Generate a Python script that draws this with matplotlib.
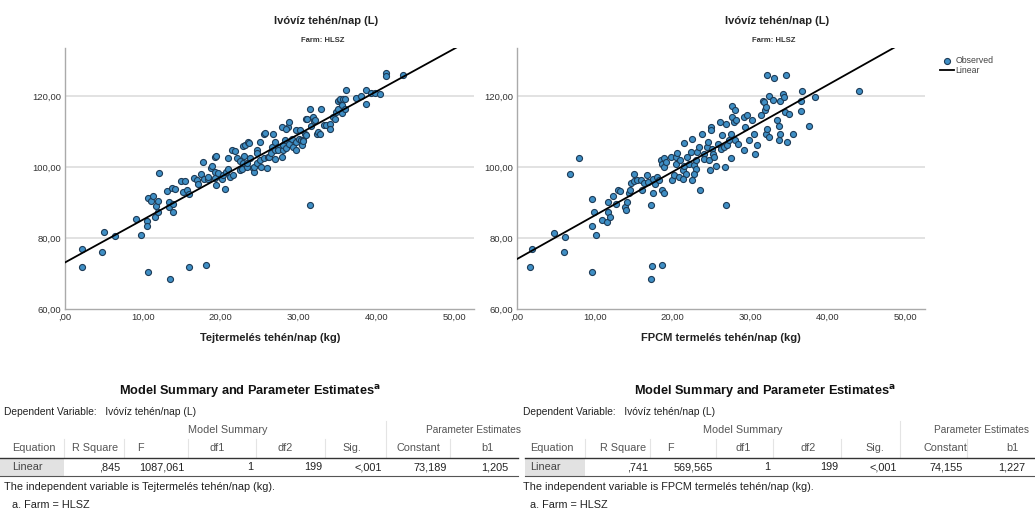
import numpy as np
import matplotlib
matplotlib.use('Agg')
import matplotlib.pyplot as plt
from matplotlib.lines import Line2D

plt.rcParams['font.family'] = ['Liberation Sans', 'DejaVu Sans']

# ---- data ----
milk_x = [2.2, 2.2, 4.7, 5.0, 6.4, 9.1, 9.7, 10.5, 10.5, 10.7, 10.7, 11.0, 11.3, 11.5, 11.7, 12.0, 12.1, 12.0,
          13.1, 13.4, 13.4, 13.5, 13.7, 13.9, 13.9, 14.1, 14.9, 15.4, 15.1, 15.6, 15.9, 15.9, 16.5, 16.9, 17.1,
          17.5, 17.7, 17.9, 18.1, 18.3, 18.4, 18.8, 18.9, 19.2, 19.4, 19.2, 19.3, 19.4, 19.7, 20.2, 20.3, 20.5,
          20.7, 20.9, 21.2, 20.9, 21.5, 21.8, 21.6, 22.1, 22.4, 22.4, 22.7, 22.9, 22.9, 23.0, 23.1, 23.5, 23.6,
          23.3, 23.7, 23.3, 24.1, 24.3, 24.3, 24.6, 24.6, 24.6, 25.0, 25.0, 25.2, 25.5, 25.6, 25.7, 25.9, 26.1,
          26.2, 26.5, 26.6, 26.7, 26.9, 27.0, 27.0, 27.3, 27.4, 27.8, 27.8, 28.0, 28.0, 28.2, 28.4, 28.6, 28.8,
          28.8, 28.4, 29.1, 29.3, 29.6, 29.7, 29.7, 30.1, 30.2, 30.3, 30.4, 30.6, 30.5, 30.8, 30.9, 30.9, 31.0,
          31.4, 31.5, 31.6, 31.8, 31.9, 32.1, 32.3, 32.5, 32.7, 32.9, 33.3, 33.5, 34.0, 34.0, 34.4, 34.6, 34.8,
          35.0, 35.0, 35.3, 35.3, 35.5, 35.6, 35.7, 35.9, 36.0, 36.1, 37.4, 38.0, 38.7, 38.7, 39.3, 39.8, 40.4,
          41.2, 41.2, 43.4]
milk_y = [77.0, 72.0, 76.1, 81.8, 80.6, 85.3, 80.8, 84.8, 83.6, 70.4, 91.3, 90.4, 91.9, 86.0, 89.1, 90.4, 98.3, 87.4,
          93.4, 90.3, 88.7, 68.5, 94.3, 87.5, 89.6, 94.0, 96.2, 96.0, 93.1, 93.7, 92.6, 72.0, 97.1, 96.4, 95.2,
          98.0, 101.6, 96.8, 72.6, 96.8, 97.3, 99.7, 100.4, 103.0, 103.3, 98.7, 97.1, 95.1, 98.3, 96.8, 97.8, 93.8,
          98.7, 102.5, 97.3, 99.6, 104.9, 104.5, 97.8, 102.7, 99.2, 101.7, 99.4, 101.1, 106.0, 103.2, 106.2, 107.1, 106.9,
          100.1, 102.5, 101.3, 99.7, 98.8, 100.0, 101.1, 105.0, 103.9, 102.0, 107.1, 100.1, 109.5, 102.5, 109.7, 99.9, 102.9,
          103.0, 103.9, 105.6, 109.5, 104.8, 102.4, 107.0, 105.7, 104.8, 111.4, 103.0, 104.8, 106.4, 107.8, 105.3, 111.4, 112.8,
          106.7, 110.8, 108.0, 105.7, 104.8, 110.4, 107.1, 108.1, 110.4, 107.6, 106.4, 107.6, 107.3, 109.5, 109.0, 113.5, 113.7,
          116.5, 89.4, 111.6, 114.2, 113.1, 113.2, 109.5, 110.0, 109.5, 116.3, 111.8, 111.8, 112.3, 110.9, 114.2, 113.6, 115.6,
          116.5, 118.8, 118.9, 119.3, 117.5, 115.4, 119.1, 119.2, 116.4, 121.9, 119.4, 120.0, 121.7, 117.7, 120.9, 121.0, 120.6,
          126.6, 125.6, 126.1]

fpcm_x = [1.7, 1.9, 4.7, 6.1, 6.2, 6.8, 8.0, 9.6, 9.7, 9.6, 9.9, 10.2, 11.0, 11.6, 11.7, 11.7, 12.0, 12.3, 12.8,
          13.0, 13.2, 13.9, 14.0, 14.2, 14.4, 14.6, 14.7, 15.0, 15.1, 15.4, 15.9, 16.1, 16.3, 16.7, 16.9, 17.3,
          17.3, 17.4, 17.5, 17.5, 17.8, 18.0, 18.3, 18.7, 18.7, 18.9, 18.5, 18.9, 18.7, 18.9, 19.2, 19.8, 20.0,
          20.2, 20.4, 20.5, 20.6, 20.8, 21.0, 21.3, 21.5, 21.7, 21.5, 21.4, 21.9, 22.1, 22.4, 22.5, 22.5, 22.8,
          23.0, 22.8, 23.0, 23.2, 23.4, 23.5, 23.8, 24.0, 24.1, 24.4, 24.6, 24.7, 24.8, 24.9, 25.0, 25.1, 25.2,
          25.3, 25.6, 25.8, 26.1, 26.2, 26.4, 26.6, 26.8, 26.9, 27.0, 27.3, 27.5, 27.7, 27.6, 27.7, 27.9, 28.1,
          28.1, 28.2, 28.4, 26.9, 29.2, 29.4, 29.2, 29.6, 29.9, 30.3, 30.5, 30.6, 30.9, 31.4, 31.6, 31.8, 31.9,
          32.0, 32.1, 32.2, 32.4, 32.2, 33.1, 34.6, 32.4, 32.9, 33.5, 33.7, 33.8, 33.7, 33.9, 34.2, 34.4, 34.5,
          34.7, 35.0, 35.5, 36.5, 36.5, 36.7, 37.6, 38.4, 44.0]
fpcm_y = [72.0, 77.1, 81.6, 76.0, 80.4, 98.0, 102.5, 70.4, 91.0, 83.5, 87.3, 80.8, 85.1, 84.6, 87.3, 90.3, 85.9, 91.9, 89.6,
          93.7, 93.3, 88.9, 88.1, 90.2, 92.8, 93.7, 95.6, 96.2, 98.0, 96.5, 96.3, 93.7, 95.6, 97.8, 95.9, 89.3,
          68.5, 72.2, 92.8, 96.6, 95.4, 97.3, 96.3, 72.6, 93.7, 92.8, 102.0, 102.6, 100.8, 100.1, 101.5, 102.9, 96.5,
          97.8, 100.8, 102.9, 104.0, 97.3, 102.0, 99.2, 100.3, 98.2, 106.8, 96.8, 102.9, 101.0, 104.3, 96.3, 108.1, 100.6,
          99.6, 98.2, 102.0, 104.3, 105.7, 93.7, 109.5, 103.8, 102.2, 105.7, 107.1, 102.0, 99.3, 111.3, 110.4, 105.2, 103.8,
          102.9, 100.3, 106.6, 112.7, 105.2, 109.0, 105.7, 100.1, 112.3, 106.2, 107.6, 109.5, 117.4, 102.6, 114.1, 112.7, 116.0,
          107.6, 113.3, 106.6, 89.3, 114.1, 111.3, 104.8, 114.6, 107.6, 113.2, 109.5, 103.8, 106.2, 114.6, 118.8, 118.3, 116.0,
          117.0, 109.5, 110.9, 108.5, 125.9, 125.2, 126.1, 120.2, 119.0, 113.2, 111.6, 118.8, 107.8, 109.5, 120.7, 119.8, 115.5,
          107.1, 115.1, 109.5, 115.8, 118.8, 121.5, 111.5, 119.8, 121.6]

x_labels = ['Tejtermelés tehén/nap (kg)', 'FPCM termelés tehén/nap (kg)']
chart_title = 'Ivóvíz tehén/nap (L)'
chart_sub = 'Farm: HLSZ'

# table contents
tab_headers = ['Equation', 'R Square', 'F', 'df1', 'df2', 'Sig.', 'Constant', 'b1']
tab_rows = [['Linear', ',845', '1087,061', '1', '199', '<,001', '73,189', '1,205'],
            ['Linear', ',741', '569,565', '1', '199', '<,001', '74,155', '1,227']]
tab_notes = ['The independent variable is Tejtermelés tehén/nap (kg).',
             'The independent variable is FPCM termelés tehén/nap (kg).']
fit_const = [73.189, 74.155]
fit_b1 = [1.205, 1.227]

W, H = 1035, 509
fig = plt.figure(figsize=(W / 100, H / 100), dpi=100)

# overlay in pixel coords for text and table rules
ov = fig.add_axes([0, 0, 1, 1])
ov.set_xlim(0, W)
ov.set_ylim(H, 0)
ov.axis('off')
ov.patch.set_visible(False)

def fmt(v):
    s = '%.2f' % v
    s = s.replace('.', ',')
    if s.startswith('0,'):
        s = s[1:]
    return s

panels = [(65, 474, milk_x, milk_y), (517, 925, fpcm_x, fpcm_y)]
top_px, bot_px = 48, 309.3
axes = []
for i, (l, r, xs, ys) in enumerate(panels):
    ax = fig.add_axes([l / W, 1 - bot_px / H, (r - l) / W, (bot_px - top_px) / H])
    ax.scatter(xs, ys, s=19, c='#3f8fc5', edgecolors='#1d3b56', linewidths=0.8, zorder=3, label='Observed')
    xx = np.array([0, 60])
    ax.plot(xx, fit_const[i] + fit_b1[i] * xx, color='black', lw=1.3, zorder=4, label='Linear')
    ax.set_xlim(0, 52.5)
    ax.set_ylim(60, 133.6)
    ax.set_xticks([0, 10, 20, 30, 40, 50])
    ax.set_xticklabels([fmt(v) for v in [0, 10, 20, 30, 40, 50]])
    ax.set_yticks([60, 80, 100, 120])
    ax.set_yticklabels([fmt(v) for v in [60, 80, 100, 120]])
    ax.tick_params(length=0, labelsize=6.8, colors='#333333', pad=2.5)
    for v in [80, 100, 120]:
        ax.axhline(v, color='#dddddd', lw=1.2, zorder=1)
    for s in ['top', 'right']:
        ax.spines[s].set_visible(False)
    for s in ['left', 'bottom']:
        ax.spines[s].set_color('#aaaaaa')
        ax.spines[s].set_linewidth(1.0)
    axes.append(ax)

# chart titles and axis labels
for cx, lx, xl in [(326, 270, x_labels[0]), (777, 721, x_labels[1])]:
    ov.text(cx, 21, chart_title, ha='center', va='center', fontsize=8, fontweight='bold', color='#222222')
    ov.text(cx - 3, 40, chart_sub, ha='center', va='center', fontsize=5.5, fontweight='bold', color='#333333')
    ov.text(lx, 338, xl, ha='center', va='center', fontsize=8, fontweight='bold', color='#222222')

axes[1].legend(loc='upper left', bbox_to_anchor=(932 / W, 1 - 48 / H), bbox_transform=fig.transFigure,
               frameon=False, fontsize=6.3, handlelength=1.6, handletextpad=0.2, labelspacing=0.15,
               labelcolor='#444444', scatterpoints=1)

# tables
tab_geo = [
    dict(x0=0, x1=518, title=250, dep=4, ms=228, pe=474, eq=12,
         hdr=[95, 140, 217, 285, 352, 418, 487],
         val=[120, 185, 253, 322, 382, 447, 508],
         cell=(0, 64), seps=[64, 124, 188, 256, 325, 450], split=386),
    dict(x0=525, x1=1035, title=765, dep=523, ms=743, pe=982, eq=530,
         hdr=[623, 670, 743, 808, 875, 945, 1012],
         val=[648, 713, 770, 838, 897, 963, 1025],
         cell=(525, 585), seps=[585, 650, 716, 773, 841, 967], split=900),
]
tc = '#222222'
fs = 7.8
for g, row, note in zip(tab_geo, tab_rows, tab_notes):
    ov.text(g['title'], 391, r'Model Summary and Parameter Estimates$^{\mathbf{a}}$', ha='center', va='center',
            fontsize=9.2, fontweight='bold', color='#111111')
    ov.text(g['dep'], 412, 'Dependent Variable:   Ivóvíz tehén/nap (L)', ha='left', va='center', fontsize=fs - 0.4, color=tc)
    ov.text(g['ms'], 430, 'Model Summary', ha='center', va='center', fontsize=fs, color='#555555')
    ov.text(g['pe'], 430, 'Parameter Estimates', ha='center', va='center', fontsize=fs - 0.5, color='#555555')
    ov.text(g['eq'], 448, tab_headers[0], ha='left', va='center', fontsize=fs, color='#555555')
    for h, hx in zip(tab_headers[1:], g['hdr']):
        ov.text(hx, 448, h, ha='center', va='center', fontsize=fs, color='#555555')
    for sx in g['seps']:
        ov.add_line(Line2D([sx, sx], [439, 457], color='#e4e4e4', lw=0.8))
    ov.add_line(Line2D([g['split'], g['split']], [421, 457], color='#e4e4e4', lw=0.8))
    ov.add_patch(plt.Rectangle((g['cell'][0], 458), g['cell'][1] - g['cell'][0], 18, color='#e2e2e2', lw=0))
    ov.add_line(Line2D([g['x0'], g['x1']], [457.5, 457.5], color='#333333', lw=1.0))
    ov.add_line(Line2D([g['x0'], g['x1']], [476, 476], color='#555555', lw=0.8))
    ov.text(g['eq'], 467, row[0], ha='left', va='center', fontsize=fs, color='#444444')
    for v, vx in zip(row[1:], g['val']):
        ov.text(vx, 467, v, ha='right', va='center', fontsize=fs, color=tc)
    ov.text(g['dep'], 487, note, ha='left', va='center', fontsize=fs, color=tc)
    ov.text(g['eq'], 505, 'a. Farm = HLSZ', ha='left', va='center', fontsize=fs, color=tc)

fig.savefig('out.png', dpi=100, facecolor='white')
